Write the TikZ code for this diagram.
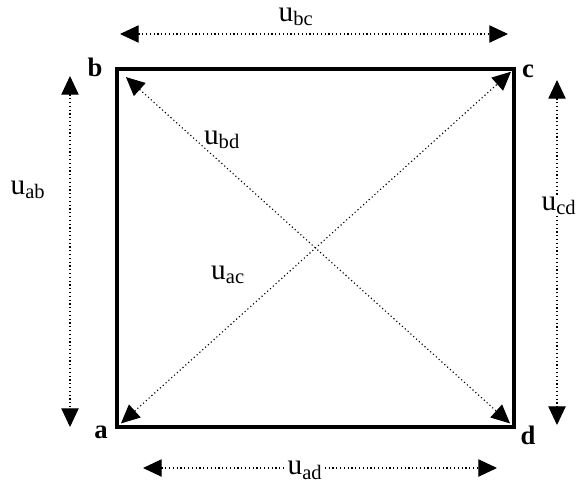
\documentclass[tikz,border=0pt]{standalone}
\usepackage{fontspec}
\setmainfont{Liberation Serif}
\usepackage{tikz}
\usetikzlibrary{arrows.meta}
\definecolor{cInk}{HTML}{000000}
\tikzset{
  sqline/.style={draw=cInk,line width=3pt,line join=miter},
  darr/.style={{Triangle[length=14pt,width=13pt]}-{Triangle[length=14pt,width=13pt]},dotted,line width=0.85pt,color=cInk},
  corner/.style={font=\fontsize{20}{22}\selectfont\bfseries,text=cInk,inner sep=0pt},
  ulbl/.style={font=\fontsize{22}{24}\selectfont,text=cInk,inner sep=0.5pt},
}

\begin{document}
\begin{tikzpicture}[x=0.75pt,y=-0.75pt]
  \useasboundingbox (0,0) rectangle (577,486); % same size as the picture
  % corners of the square
  \coordinate (a) at (117,427);
  \coordinate (b) at (117,69);
  \coordinate (c) at (514,69);
  \coordinate (d) at (514,427);
  \draw[sqline] (a) -- (b) -- (c) -- (d) -- cycle;
  \node[corner] (la) at (101,432) {a};
  \node[corner] (lb) at (95,67) {b};
  \node[corner] (lc) at (528,71) {c};
  \node[corner] (ld) at (528,435) {d};
  % ends of the side arrows
  \coordinate (bcL) at (120,34);  \coordinate (bcR) at (508,34);
  \coordinate (abT) at (70,76);   \coordinate (abB) at (70,427);
  \coordinate (cdT) at (557,80);  \coordinate (cdB) at (557,425);
  \coordinate (adL) at (143,468); \coordinate (adR) at (497,468);
  \draw[darr] (bcL) -- (bcR);
  \draw[darr] (abT) -- (abB);
  \draw[darr] (cdT) -- (cdB);
  \draw[darr] (adL) -- (adR);
  \draw[darr,shorten <=9pt,shorten >=4pt] (b) -- (d);
  \draw[darr,shorten <=4pt,shorten >=3pt] (a) -- (c);
  \node[ulbl] (ubc) at (296,17) {u\textsubscript{bc}};
  \node[ulbl] (uab) at (28,190) {u\textsubscript{ab}};
  \node[ulbl,fill=white] (ucd) at (559,206) {u\textsubscript{cd}};
  \node[ulbl,fill=white] (uad) at (305,470) {u\textsubscript{ad}};
  \node[ulbl] (ubd) at (222,140) {u\textsubscript{bd}};
  \node[ulbl] (uac) at (228,275) {u\textsubscript{ac}};
\end{tikzpicture}
\end{document}
